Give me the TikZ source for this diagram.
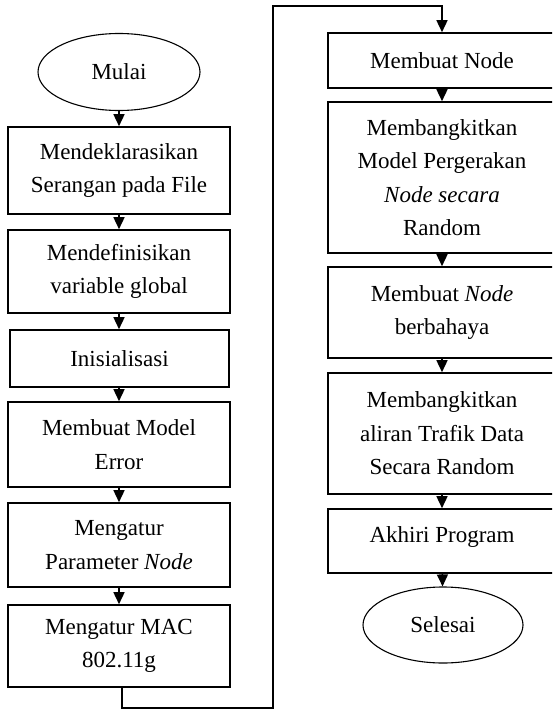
\documentclass[tikz,border=0pt]{standalone}
\usepackage{fontspec}
\setmainfont{Liberation Serif}
\usetikzlibrary{arrows.meta,shapes.geometric}

\begin{document}
\begin{tikzpicture}[x=1pt,y=-1pt,
  teks/.style={font=\fontsize{23}{33.5}\selectfont},
  proses/.style={teks,draw=black,line width=1.6pt,align=center,inner sep=0pt,minimum width=222pt},
  proseskanan/.style={proses,minimum width=228pt},
  terminal/.style={teks,draw=black,line width=1.1pt,ellipse,inner sep=0pt},
  panah/.style={-{Triangle[length=12pt,width=11pt]},line width=1.5pt}]
\clip(0,0)rectangle(552,709);
% kolom kiri
\node[terminal,minimum width=162pt,minimum height=77pt](mulai)at(119,72){Mulai};
\node[proses,minimum height=87pt](deklarasi)at(119,170.5){Mendeklarasikan\\Serangan pada File};
\node[proses,minimum height=83pt](variabel)at(119,271.5){Mendefinisikan\\variable global};
\node[proses,minimum width=219pt,minimum height=57pt](inisial)at(119.5,358.5){Inisialisasi};
\node[proses,minimum height=85pt](error)at(119,444.5){Membuat Model\\Error};
\node[proses,minimum height=84pt](parameter)at(119,545){Mengatur\\Parameter \textit{Node}};
\node[proses,minimum height=82pt](mac)at(119,646){Mengatur MAC\\802.11g};
% kolom kanan
\node[proseskanan,minimum height=55pt](buatnode)at(442,60.5){Membuat Node};
\node[proseskanan,minimum height=151pt](gerak)at(442,177.5){Membangkitkan\\Model Pergerakan\\\textit{Node secara}\\Random};
\node[proseskanan,minimum height=91pt](bahaya)at(442,312.5){Membuat \textit{Node}\\berbahaya};
\node[proseskanan,minimum height=121pt](trafik)at(442,433.5){Membangkitkan\\aliran Trafik Data\\Secara Random};
\node[proseskanan,minimum height=64pt,text depth=12pt](akhir)at(442,541){Akhiri Program};
\node[terminal,minimum width=160pt,minimum height=76pt](selesai)at(443,625){Selesai};
% panah
\draw[panah](mulai)--(deklarasi);
\draw[panah](deklarasi)--(variabel);
\draw[panah](variabel)--(inisial.north -| variabel);
\draw[panah](inisial.south -| variabel)--(error);
\draw[panah](error)--(parameter);
\draw[panah](parameter)--(mac);
\coordinate(bawah)at(122,708);
\coordinate(atas)at(273,6);
\draw[panah](mac.south -| bawah)--(bawah)-|(atas)-|(buatnode.north);
\draw[panah](buatnode)--(gerak);
\draw[panah](gerak)--(bahaya);
\draw[panah](bahaya)--(trafik);
\draw[panah](trafik)--(akhir);
\draw[panah](akhir)--(selesai);
\end{tikzpicture}
\end{document}
